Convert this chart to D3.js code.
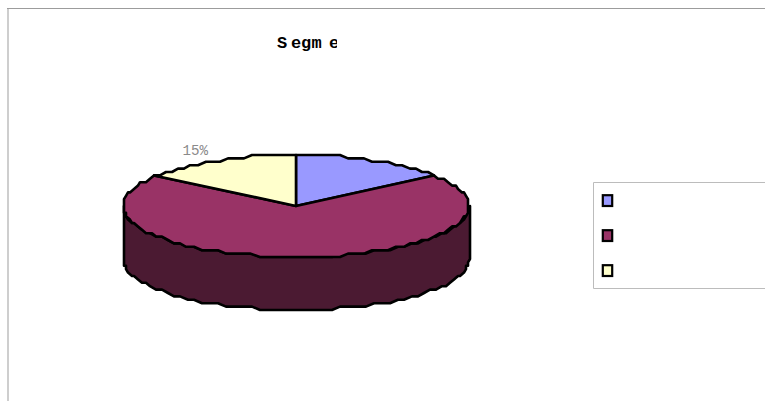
<!DOCTYPE html>
<html><head><meta charset="utf-8">
<script src="https://cdnjs.cloudflare.com/ajax/libs/d3/7.8.5/d3.min.js"></script>
<style>html,body{margin:0;padding:0;background:#fff;overflow:hidden}svg{display:block}</style>
</head><body><svg id="c" width="765" height="401"></svg>
<script>
const titleLetters = ["S", "e", "g", "m", "e", "n", "t"];
const sliceValues = [14.6, 70.2, 15.2];
const sliceColors = ["#9999FF", "#993366", "#FFFFCC"];
const sideColor = "#4B1A32";
const visibleLabels = [null, null, "15%"];

const svg = d3.select("#c");
const W = 765, H = 401;
const cx = 297, cy = 206, rx = 173, ry = 51, depth = 53;

// frame
svg.append("path").attr("d", `M8 ${H}V8`).attr("fill", "none").attr("stroke", "#c2c2c2").attr("stroke-width", 1.6);
svg.append("path").attr("d", `M7 8.5H${W}`).attr("fill", "none").attr("stroke", "#9c9c9c").attr("stroke-width", 1);

// title (clipped as in reference)
const clip = svg.append("clipPath").attr("id", "tc");
clip.append("rect").attr("x", 260).attr("y", 25).attr("width", 77).attr("height", 35);
const titleX = d3.scaleOrdinal().domain(d3.range(titleLetters.length)).range([277, 291, 301, 311.5, 329, 342, 352]);
svg.append("g").attr("clip-path", "url(#tc)").selectAll("text").data(titleLetters).enter().append("text")
  .attr("x", (d, i) => titleX(i)).attr("y", 47.5)
  .attr("font-family", "'Liberation Mono'").attr("font-weight", "bold").attr("font-size", 17)
  .attr("fill", "#000").text(d => d);

// pie angles through d3
const arcs = d3.pie().sort(null).startAngle(0).endAngle(2 * Math.PI)(sliceValues);
const xS = d3.scaleLinear().domain([-1, 1]).range([cx - rx, cx + rx]);
const yS = d3.scaleLinear().domain([-1, 1]).range([cy - ry, cy + ry]);
const qx = v => Math.floor(v / 2) * 2;
const qy = v => (cy - ry) + Math.round((v - (cy - ry)) / 3.4) * 3.4;
const pt = (a, dy = 0) => [qx(xS(Math.sin(a))), qy(yS(-Math.cos(a))) + dy];
const STEP = 3 * Math.PI / 180;
const samples = (a0, a1, dy = 0) => {
  const n = Math.max(1, Math.ceil((a1 - a0) / STEP));
  return d3.range(n + 1).map(i => pt(a0 + (a1 - a0) * i / n, dy));
};
const line = d3.line();

// side wall (front half)
const front = samples(Math.PI / 2, Math.PI * 1.5);
const back = samples(Math.PI / 2, Math.PI * 1.5, depth).reverse();
svg.append("path").attr("d", line(front.concat(back)) + "Z")
  .attr("fill", sideColor).attr("stroke", "#000").attr("stroke-width", 2.6).attr("stroke-linejoin", "round");

// top slices
svg.selectAll("path.s").data(arcs).enter().append("path").attr("class", "s")
  .attr("d", d => line([[qx(cx), cy]].concat(samples(d.startAngle, d.endAngle))) + "Z")
  .attr("fill", (d, i) => sliceColors[i]).attr("stroke", "#000").attr("stroke-width", 2.6).attr("stroke-linejoin", "round");

// data label
svg.selectAll("text.l").data(arcs.filter(d => visibleLabels[d.index])).enter().append("text").attr("class", "l")
  .attr("x", 182.5).attr("y", 154.5).attr("font-family", "'Liberation Mono'")
  .attr("font-size", 15).attr("fill", "#8a8a8a").attr("textLength", 25.5).attr("lengthAdjust", "spacingAndGlyphs")
  .text(d => visibleLabels[d.index]);

// legend
svg.append("path").attr("d", `M${W} 182.5H593.5V288.5H${W}`).attr("fill", "#fff").attr("stroke", "#bcbcbc").attr("stroke-width", 1);
const legY = d3.scalePoint().domain(d3.range(sliceValues.length)).range([200.6, 270.6]);
svg.selectAll("rect.k").data(sliceColors).enter().append("rect").attr("class", "k")
  .attr("x", 602.8).attr("y", (d, i) => legY(i) - 5.4).attr("width", 9.4).attr("height", 10.8)
  .attr("fill", d => d).attr("stroke", "#000").attr("stroke-width", 2.2);
</script></body></html>
